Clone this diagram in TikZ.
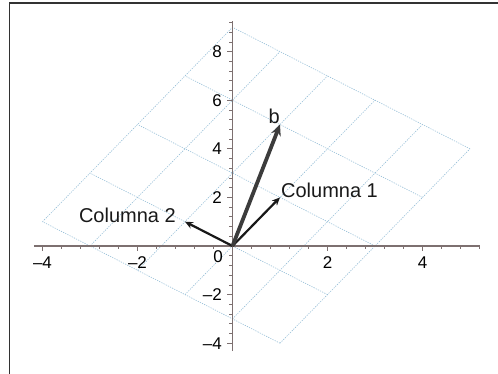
\documentclass[tikz,border=0pt]{standalone}
\usepackage{fontspec}
\setmainfont{Liberation Sans}
\usetikzlibrary{arrows.meta}
\definecolor{gridc}{RGB}{150,190,215}
\definecolor{axisc}{RGB}{125,112,112}
\definecolor{bvec}{RGB}{60,60,60}
\definecolor{cvec}{RGB}{25,25,25}
\definecolor{framec}{RGB}{50,50,50}
\tikzset{
  gridline/.style={draw=gridc, line width=0.6pt, dash pattern=on 1.2pt off 1.2pt},
  axisline/.style={draw=axisc, line width=1.2pt},
  tickline/.style={draw=axisc, line width=0.7pt},
  ticklab/.style={inner sep=0pt, font=\fontsize{17}{20}\selectfont, text=black},
  veclab/.style={inner sep=0pt, font=\fontsize{20}{24}\selectfont, text=black!90},
  colvec/.style={draw=cvec, line width=2.2pt, -{Stealth[length=8pt,width=7pt]}},
  bvector/.style={draw=bvec, line width=3.8pt, -{Stealth[length=11pt,width=10pt]}},
}
\begin{document}
\begin{tikzpicture}[x=47.5pt, y=24.3pt]
\useasboundingbox (-232.5pt,-128pt) rectangle (265.5pt,246pt);
% frame (top and left)
\draw[framec, line width=1.4pt] (-223pt,-128pt) -- (-223pt,243pt) -- (265.5pt,243pt);
% grid spanned by (1,2) and (-1,1)
\foreach \a in {-1,...,3} {
  \draw[gridline] ({\a*1-(-2)*1},{\a*2+(-2)*1}) -- ({\a*1-3},{\a*2+3});
}
\foreach \b in {-2,...,3} {
  \draw[gridline] ({-1-\b},{-2+\b}) -- ({3-\b},{6+\b});
}
% axes
\coordinate (O) at (0,0);
\coordinate (xl) at (-4.18,0);
\coordinate (xr) at (5.2,0);
\coordinate (yb) at (0,-4.33);
\coordinate (yt) at (0,9.26);
\draw[axisline] (xl) -- (xr);
\draw[axisline] (yb) -- (yt);
\foreach \i in {-10,...,13} {
  \draw[tickline] (\i*0.4,0) -- ++(0,-3pt);
}
\foreach \i in {-10,...,23} {
  \draw[tickline] (0,\i*0.4) -- ++(-3.5pt,0);
}
\foreach \v in {-4,-2,2,4} {
  \draw[tickline] (\v,0) -- ++(0,-5pt);
}
\foreach \v in {-4,-2,2,4,6,8} {
  \draw[tickline] (0,\v) -- ++(-5.5pt,0);
}
% tick labels
\node[ticklab, anchor=north] (xm4) at (-4,-0.42) {–4};
\node[ticklab, anchor=north] (xm2) at (-2,-0.42) {–2};
\node[ticklab, anchor=north] (x2) at (2,-0.42) {2};
\node[ticklab, anchor=north] (x4) at (4,-0.42) {4};
\node[ticklab, anchor=north east] (zero) at (-0.2,-0.2) {0};
\node[ticklab, anchor=east] (ym4) at (-0.22,-4) {–4};
\node[ticklab, anchor=east] (ym2) at (-0.22,-2) {–2};
\node[ticklab, anchor=east] (y2) at (-0.22,2) {2};
\node[ticklab, anchor=east] (y4) at (-0.22,4) {4};
\node[ticklab, anchor=east] (y6) at (-0.22,6) {6};
\node[ticklab, anchor=east] (y8) at (-0.22,8) {8};
% vectors
\coordinate (c1) at (1,2);
\coordinate (c2) at (-1,1);
\coordinate (bt) at (1,5);
\draw[colvec] (O) -- (c1);
\draw[colvec] (O) -- (c2);
\draw[bvector] (O) -- (bt);
\node[veclab, anchor=base west] (l1) at (1.02,2.0) {Columna 1};
\node[veclab, anchor=base east] (l2) at (-1.19,0.96) {Columna 2};
\node[veclab, anchor=base east] (lb) at (1.0,5.05) {b};
\end{tikzpicture}
\end{document}
